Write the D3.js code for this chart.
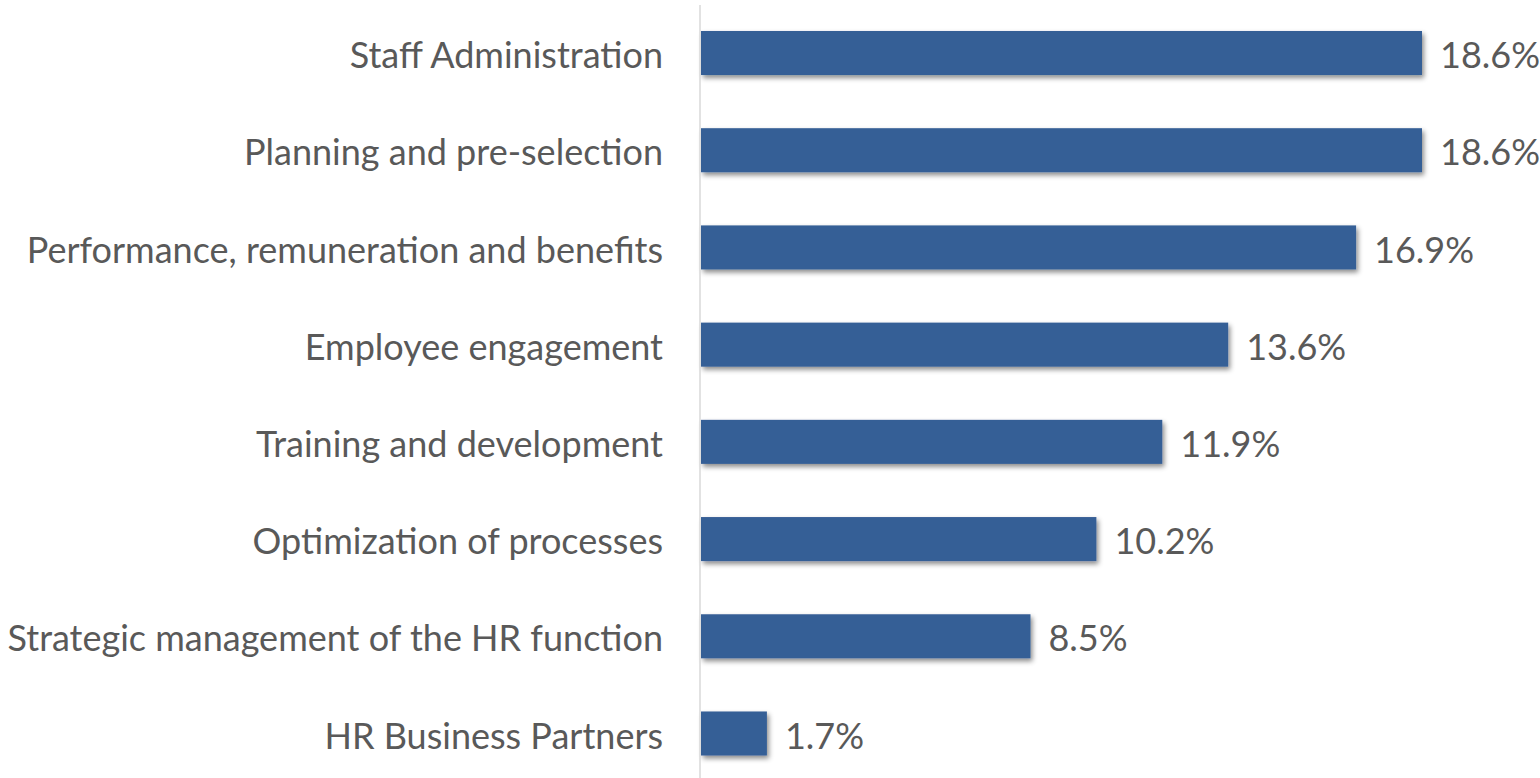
<!DOCTYPE html>
<html>
<head>
<meta charset="utf-8">
<script src="https://cdn.jsdelivr.net/npm/d3@7"></script>
<style>
  html, body { margin: 0; padding: 0; background: #fff; }
  text { font-family: Lato, "Open Sans", sans-serif; fill: #595959; }
</style>
</head>
<body>
<div id="chart"></div>
<script>
const categories = [
  "Staff Administration",
  "Planning and pre-selection",
  "Performance, remuneration and benefits",
  "Employee engagement",
  "Training and development",
  "Optimization of processes",
  "Strategic management of the HR function",
  "HR Business Partners"
];
const values = [18.6, 18.6, 16.9, 13.6, 11.9, 10.2, 8.5, 1.7];

const width = 1540, height = 778;
const axisX = 700;
const barColor = "#365f96";

const svg = d3.select("#chart")
  .append("svg")
  .attr("width", width)
  .attr("height", height)
  .attr("viewBox", `0 0 ${width} ${height}`);

const defs = svg.append("defs");
defs.append("filter")
  .attr("id", "shadow")
  .attr("x", "-10%").attr("y", "-30%")
  .attr("width", "130%").attr("height", "180%")
  .append("feDropShadow")
  .attr("dx", 2).attr("dy", 3)
  .attr("stdDeviation", 2.5)
  .attr("flood-color", "#000")
  .attr("flood-opacity", 0.45);

const xScale = d3.scaleLinear()
  .domain([0, 18.6])
  .range([axisX + 1, 1422]);

const yScale = d3.scaleBand()
  .domain(categories)
  .range([4.4, 782.1])
  .paddingInner(0.547)
  .paddingOuter(0.2735);

const data = categories.map((c, i) => ({ cat: c, val: values[i] }));

svg.append("g")
  .selectAll("rect")
  .data(data)
  .join("rect")
  .attr("x", xScale(0))
  .attr("y", d => yScale(d.cat))
  .attr("width", d => xScale(d.val) - xScale(0))
  .attr("height", yScale.bandwidth())
  .attr("fill", barColor)
  .attr("filter", "url(#shadow)");

// left axis: category labels only, the line is drawn separately
const leftAxisG = svg.append("g")
  .attr("transform", `translate(${axisX},0)`)
  .call(d3.axisLeft(yScale).tickSize(0).tickPadding(37));

leftAxisG.select(".domain").remove();
leftAxisG.selectAll("text")
  .attr("font-size", 36)
  .attr("dy", "0.42em")
  .style("font-family", "Lato, 'Open Sans', sans-serif")
  .attr("fill", "#595959");

svg.append("line")
  .attr("x1", axisX).attr("x2", axisX)
  .attr("y1", 5).attr("y2", height)
  .attr("stroke", "#d9d9d9")
  .attr("stroke-width", 1.5);

svg.append("g")
  .selectAll("text")
  .data(data)
  .join("text")
  .attr("x", d => xScale(d.val) + 18)
  .attr("y", d => yScale(d.cat) + yScale.bandwidth() / 2)
  .attr("dy", "0.42em")
  .attr("font-size", 36)
  .text(d => d.val.toFixed(1) + "%");
</script>
</body>
</html>
